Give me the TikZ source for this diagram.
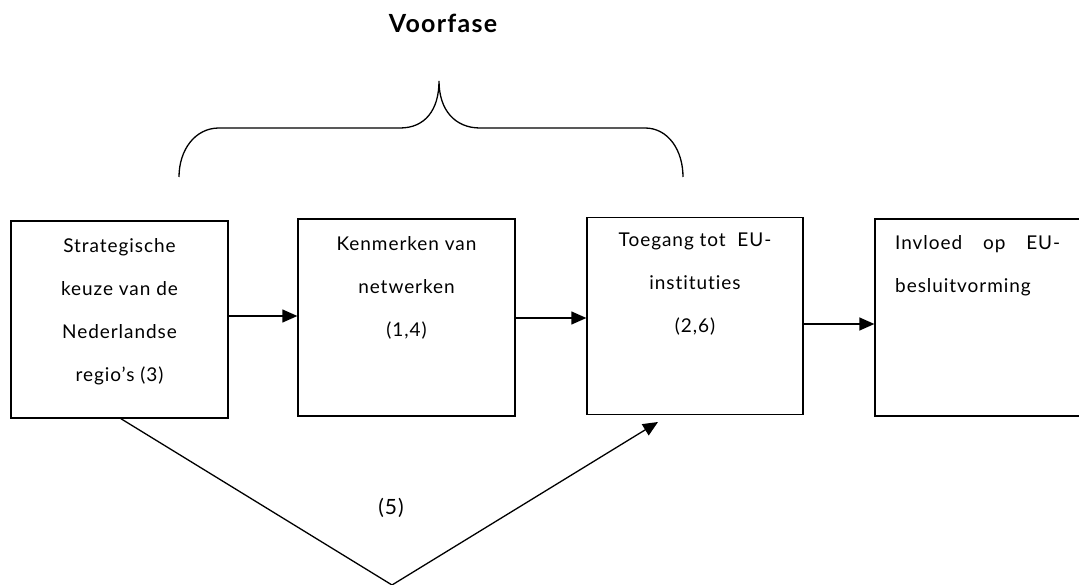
\documentclass[tikz,border=0pt]{standalone}
\usepackage{fontspec}
\setmainfont{Lato}[Ligatures=NoCommon]
\usetikzlibrary{arrows.meta}
\begin{document}
\begin{tikzpicture}[x=1pt,y=-1pt,
  box/.style={draw,line width=1.3pt,minimum width=#1,minimum height=197pt,inner sep=0pt},
  txt/.style={font=\fontsize{19}{43}\selectfont\addfontfeature{LetterSpace=5},align=center,inner sep=0pt,anchor=north},
  arr/.style={line width=1.3pt,-{Triangle[length=15pt,width=13pt]}},
  ln/.style={line width=1.3pt}]
\useasboundingbox (0,0) rectangle (1079,585);
% boxes
\node[box=217pt] (b1) at (119.5,319.5) {};
\node[box=217pt] (b2) at (406.5,317.5) {};
\node[box=216pt] (b3) at (695,316) {};
\node[box=216pt] (b4) at (983,317.5) {};
% texts
\node[txt] (t1) at (119.5,238) {Strategische\\keuze van de\\Nederlandse\\regio’s (3)};
\node[txt] (t2) at (406.5,236) {Kenmerken van\\netwerken\\(1,4)};
\node[txt] (t3) at (695,233) {Toegang tot\ \ EU-\\instituties\\(2,6)};
\node[txt,align=left,text width=165pt,anchor=north west] (t4) at (895,235) {Invloed\hfill op\hfill EU-\\besluitvorming};
% horizontal arrows
\draw[arr] (b1.east |- 0,316) -- (b2.west |- 0,316);
\draw[arr] (b2.east |- 0,318) -- (b3.west |- 0,318);
\draw[arr] (b3.east |- 0,324) -- (b4.west |- 0,324);
% V connector
\coordinate (vs) at ([xshift=110.5pt]b1.south west);
\coordinate (vv) at (392,585);
\coordinate (ve) at (658,422);
\draw[ln] (vs) -- (vv);
\draw[arr] (vv) -- (ve);
\node[font=\fontsize{21}{24}\selectfont\addfontfeature{LetterSpace=5},inner sep=0pt] (n5) at (391,508) {(5)};
% brace
\draw[line width=1.3pt] (179,177) .. controls (179,150) and (195,128) .. (219,128)
  -- (400,128) .. controls (425,128) and (439,110) .. (439,81)
  .. controls (439,110) and (455,128) .. (480,128)
  -- (645,128) .. controls (668,128) and (683,150) .. (683,177);
\node[font=\fontsize{25}{28}\selectfont\bfseries\addfontfeature{LetterSpace=5},inner sep=0pt,anchor=base] (vf) at (443,33) {Voorfase};
\end{tikzpicture}
\end{document}
